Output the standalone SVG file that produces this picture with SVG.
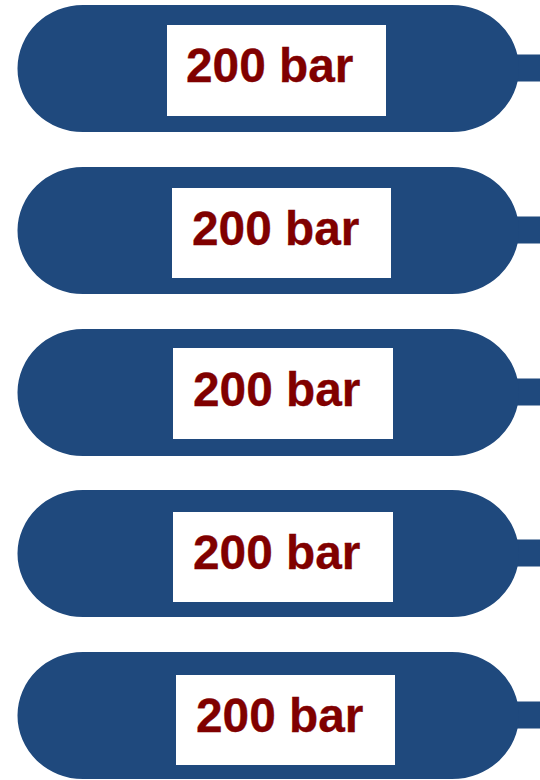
<svg xmlns="http://www.w3.org/2000/svg" width="540" height="780" viewBox="0 0 540 780">
<style>
.b{fill:#1f497d}
.l{fill:#fff}
.t{font-family:"Liberation Sans",Arial,sans-serif;font-weight:700;font-size:47.8px;fill:#800000;stroke:#800000;stroke-width:.3px}
</style>
<defs>
<g id="c"><rect class="b" x="505" y="54.5" width="35" height="27"/><path class="b" d="M83 5H452A67 63.5 0 0 1 452 132H83A65.500 63.500 0 0 1 83 5Z"/></g>
</defs>
<rect width="540" height="780" fill="#fff"/>
<g id="tank1"><use href="#c"/><rect class="l" x="167" y="25" width="219" height="91"/><text class="t" x="186" y="81.500">200 bar</text></g>
<g id="tank2"><use href="#c" y="162"/><rect class="l" x="172" y="188" width="219" height="90"/><text class="t" x="192" y="244.500">200 bar</text></g>
<g id="tank3"><use href="#c" y="324"/><rect class="l" x="173" y="348" width="220" height="91"/><text class="t" x="193" y="405.500">200 bar</text></g>
<g id="tank4"><use href="#c" y="485"/><rect class="l" x="173" y="512" width="220" height="90"/><text class="t" x="193" y="568.500">200 bar</text></g>
<g id="tank5"><use href="#c" y="647"/><rect class="l" x="176" y="675" width="219" height="90"/><text class="t" x="196" y="731.500">200 bar</text></g>
</svg>
